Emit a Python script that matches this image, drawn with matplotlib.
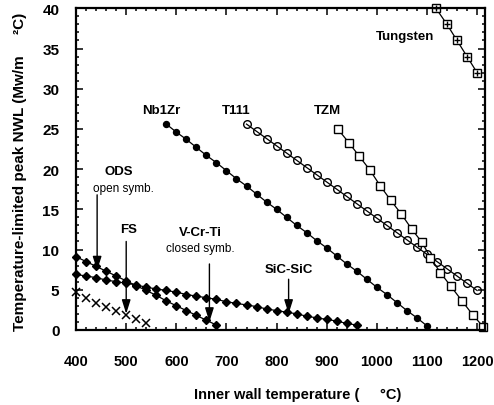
import matplotlib
matplotlib.use("Agg")
import matplotlib.pyplot as plt
from matplotlib.ticker import MultipleLocator

plt.rcParams['font.family'] = ['Liberation Sans', 'DejaVu Sans']
plt.rcParams['font.weight'] = 'bold'

# wall temperature (C) vs temperature-limited peak NWL
nb_t = [580, 600, 620, 640, 660, 680, 700, 720, 740, 760, 780, 800, 820, 840,
        860, 880, 900, 920, 940, 960, 980, 1000, 1020, 1040, 1060, 1080, 1100]
nb_nwl = [25.6, 24.6, 23.7, 22.7, 21.7, 20.8, 19.8, 18.8, 17.9, 16.9, 15.9, 15.0, 14.0, 13.0,
          12.1, 11.1, 10.2, 9.2, 8.2, 7.3, 6.3, 5.3, 4.4, 3.4, 2.4, 1.5, 0.5]

t111_t = [740, 760, 780, 800, 820, 840, 860, 880, 900, 920, 940, 960,
          980, 1000, 1020, 1040, 1060, 1080, 1100, 1120, 1140, 1160, 1180, 1200]
t111_nwl = [25.6, 24.7, 23.8, 22.9, 22.0, 21.1, 20.2, 19.3, 18.4, 17.5, 16.6, 15.7,
            14.8, 13.9, 13.0, 12.1, 11.2, 10.3, 9.4, 8.5, 7.6, 6.7, 5.8, 4.9]

tzm_t = [922, 944, 965, 986, 1007, 1028, 1049, 1070, 1090, 1107, 1127, 1148, 1170, 1191, 1212]
tzm_nwl = [25.0, 23.3, 21.6, 19.9, 17.9, 16.1, 14.4, 12.5, 10.9, 9.0, 7.1, 5.4, 3.6, 1.9, 0.4]

w_t = [1118, 1140, 1160, 1180, 1200]
w_nwl = [40.0, 38.0, 36.0, 34.0, 32.0]

vcrti_t = [400, 420, 440, 460, 480, 500, 520, 540, 560, 580, 600, 620, 640, 660, 680]
vcrti_nwl = [9.1, 8.5, 7.9, 7.3, 6.7, 6.1, 5.5, 4.9, 4.3, 3.6, 3.0, 2.4, 1.8, 1.2, 0.6]

sic_t = [400, 420, 440, 460, 480, 500, 520, 540, 560, 580, 600, 620, 640, 660, 680,
         700, 720, 740, 760, 780, 800, 820, 840, 860, 880, 900, 920, 940, 960]
sic_nwl = [6.9, 6.7, 6.5, 6.2, 6.0, 5.8, 5.6, 5.3, 5.1, 4.9, 4.7, 4.4, 4.2, 4.0, 3.8,
           3.5, 3.3, 3.1, 2.9, 2.6, 2.4, 2.2, 2.0, 1.7, 1.5, 1.3, 1.1, 0.8, 0.6]

fs_t = [400, 420, 440, 460, 480, 500, 520, 540]
fs_nwl = [4.7, 4.0, 3.4, 2.8, 2.3, 1.8, 1.3, 0.8]

fig = plt.figure(figsize=(4.94, 4.06), dpi=100)
ax = fig.add_axes([0.154, 0.185, 0.828, 0.792])

ax.plot(nb_t, nb_nwl, '-o', color='black', lw=0.9, ms=4.3, mfc='black', clip_on=False)
ax.plot(t111_t, t111_nwl, '-o', color='black', lw=0.9, ms=5.5, mfc='none', mew=1, clip_on=False)
ax.plot(tzm_t, tzm_nwl, '-s', color='black', lw=0.9, ms=5.5, mfc='white', mew=1, clip_on=False)
ax.plot(w_t, w_nwl, '-s', color='black', lw=0.9, ms=6, mfc='white', mew=1, clip_on=False)
ax.plot(w_t, w_nwl, '+', color='black', ms=5, mew=1, clip_on=False)
ax.plot(vcrti_t, vcrti_nwl, '-D', color='black', lw=0.9, ms=4.5, clip_on=False)
ax.plot(sic_t, sic_nwl, '-D', color='black', lw=0.9, ms=3.8, clip_on=False)
ax.plot(fs_t, fs_nwl, 'x', color='black', ms=6, mew=1.1, clip_on=False)

ax.set_xlim(400, 1216)
ax.set_ylim(0, 40)
ax.xaxis.set_major_locator(MultipleLocator(100))
ax.xaxis.set_minor_locator(MultipleLocator(20))
ax.yaxis.set_major_locator(MultipleLocator(5))
ax.yaxis.set_minor_locator(MultipleLocator(1))
ax.tick_params(which='both', direction='in', top=True, right=True, width=1.1)
ax.tick_params(which='major', length=5)
ax.tick_params(which='minor', length=2.5)
ax.tick_params(axis='x', labelsize=10.5, pad=17)
ax.tick_params(axis='y', labelsize=11, pad=12)
for s in ax.spines.values():
    s.set_linewidth(1.6)

# material labels
lab = dict(ha='center', va='center', fontsize=9.5, fontweight='bold')
ax.text(570, 27.4, 'Nb1Zr', **lab)
ax.text(720, 27.4, 'T111', **lab)
ax.text(902, 27.4, 'TZM', **lab)
ax.text(1056, 36.6, 'Tungsten', **lab)
ax.text(486, 19.8, 'ODS', **lab)
ax.text(494, 17.7, 'open symb.', ha='center', va='center', fontsize=8.5, fontweight='normal')
ax.text(504, 12.5, 'FS', **lab)
ax.text(648, 12.2, 'V-Cr-Ti', **lab)
ax.text(648, 10.2, 'closed symb.', ha='center', va='center', fontsize=8.5, fontweight='normal')
ax.text(824, 7.6, 'SiC-SiC', **lab)

arrow = dict(arrowstyle='-|>,head_width=0.22,head_length=0.7', color='black', lw=1, mutation_scale=12,
             shrinkA=0, shrinkB=0)
ax.annotate('', xy=(442, 7.4), xytext=(442, 16.8), arrowprops=arrow)
ax.annotate('', xy=(500, 2.0), xytext=(500, 11.0), arrowprops=arrow)
ax.annotate('', xy=(666, 1.0), xytext=(666, 8.2), arrowprops=arrow)
ax.annotate('', xy=(824, 2.0), xytext=(824, 6.3), arrowprops=arrow)

fig.text(0.602, 0.027, 'Inner wall temperature (     °C)', ha='center', va='center', fontsize=10.5)
fig.text(0.04, 1 - 172 / 406, 'Temperature-limited peak NWL (Mw/m     ²C)', ha='center', va='center',
         rotation=90, fontsize=11)

fig.savefig('out.png', dpi=100)
